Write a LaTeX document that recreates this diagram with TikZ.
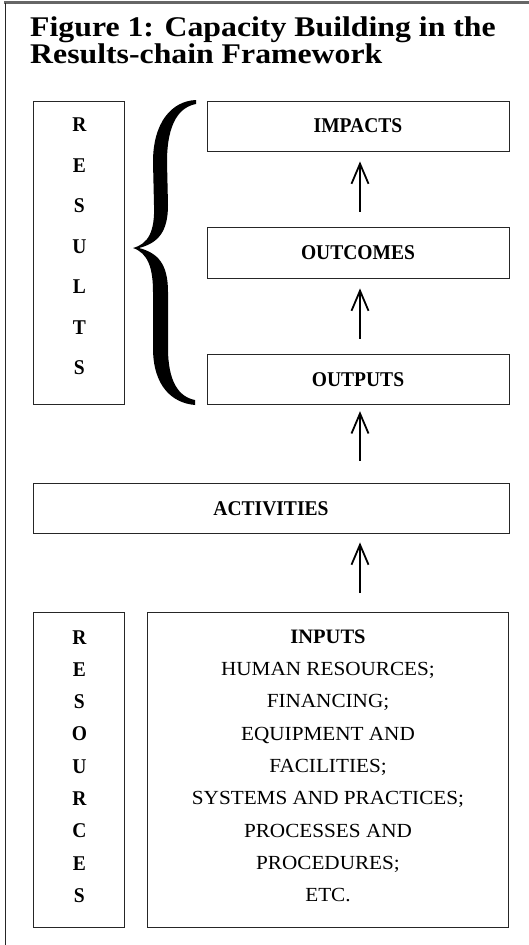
\documentclass[tikz,border=0pt]{standalone}
\usepackage{fontspec}
\setmainfont{Liberation Serif}
\newfontfamily\titlefont{Liberation Serif}[FakeStretch=1.115]
\newfontfamily\lblfont{Liberation Serif}[FakeStretch=0.93]
\newfontfamily\inpfont{Liberation Serif}[FakeStretch=1.06]
\usetikzlibrary{arrows.meta,calc}
\tikzset{
  box/.style={draw=black!85, line width=0.9pt, inner sep=0pt},
  lbl/.style={font=\lblfont\fontsize{21}{25}\selectfont\bfseries},
  stack/.style={align=center, inner sep=0pt},
  titletext/.style={anchor=base west, inner sep=0pt, font=\titlefont\fontsize{28.5}{30}\selectfont\bfseries},
  arr/.style={line width=1.9pt, -{Straight Barb[length=20pt,width=17pt,line width=1.8pt]}},
}
\begin{document}
\begin{tikzpicture}[x=1pt,y=-1pt]
\useasboundingbox (0,0) rectangle (529,945);
% outer frame (top and left)
\draw[line width=2.4pt, black!60] (4,2.5) -- (529,2.5);
\draw[line width=0.9pt, black!85] (5.5,3) -- (5.5,945);
% title
\node[titletext] (title1) at (30,36) {Figure 1: Capacity Building in the};
\node[titletext] (title2) at (30,63.5) {Results-chain Framework};
% results column
\node[box, minimum width=91pt, minimum height=303pt] (results) at (79.4,252.5) {};
\node[stack, font=\lblfont\fontsize{21}{40.5}\selectfont\bfseries] (resultsT) at (79.4,246.6) {R\\E\\S\\U\\L\\T\\S};
% brace
\fill (196,100) .. controls (172,101) and (153,122) .. (153,162)
 -- (154,205) .. controls (155,232) and (148,244) .. (133,248)
 .. controls (148,253) and (153,268) .. (153,292)
 -- (153,348) .. controls (153,386) and (172,403) .. (195,405)
 -- (195,400) .. controls (179,397) and (168,382) .. (168,348)
 -- (168,292) .. controls (168,264) and (158,253) .. (139,248)
 .. controls (158,243) and (168,232) .. (168,205)
 -- (167,162) .. controls (167,122) and (180,107) .. (196,104) -- cycle;
% result boxes
\node[box, lbl, minimum width=302pt, minimum height=50pt] (impacts) at (358,126) {IMPACTS};
\node[box, lbl, minimum width=302pt, minimum height=51pt] (outcomes) at (358,252.5) {OUTCOMES};
\node[box, lbl, minimum width=302pt, minimum height=50.5pt] (outputs) at (358,379.5) {OUTPUTS};
\node[box, lbl, minimum width=476pt, minimum height=50.5pt] (activities) at (271,508.2) {ACTIVITIES};
% resources
\node[box, minimum width=91pt, minimum height=315pt] (resources) at (79.4,769.5) {};
\node[stack, font=\lblfont\fontsize{21}{32.3}\selectfont\bfseries] (resourcesT) at (79.4,766.5) {R\\E\\S\\O\\U\\R\\C\\E\\S};
\node[box, minimum width=361pt, minimum height=315pt] (inputs) at (328,769.5) {};
\node[stack, font=\inpfont\fontsize{20}{32.3}\selectfont] (inputsT) at (328,765.8) {{\rmfamily\bfseries\fontsize{20.5}{32.3}\selectfont INPUTS}\\HUMAN RESOURCES;\\FINANCING;\\EQUIPMENT AND\\FACILITIES;\\SYSTEMS AND PRACTICES;\\PROCESSES AND\\PROCEDURES;\\ETC.};
% arrows
\coordinate (ax) at (360,0);
\draw[arr] ($(outcomes.north -| ax)+(0,-15)$) -- ($(impacts.south -| ax)+(0,10)$);
\draw[arr] ($(outputs.north -| ax)+(0,-15)$) -- ($(outcomes.south -| ax)+(0,10)$);
\draw[arr] ($(activities.north -| ax)+(0,-22)$) -- ($(outputs.south -| ax)+(0,6)$);
\draw[arr] ($(inputs.north -| ax)+(0,-18.5)$) -- ($(activities.south -| ax)+(0,8.5)$);
\end{tikzpicture}
\end{document}
